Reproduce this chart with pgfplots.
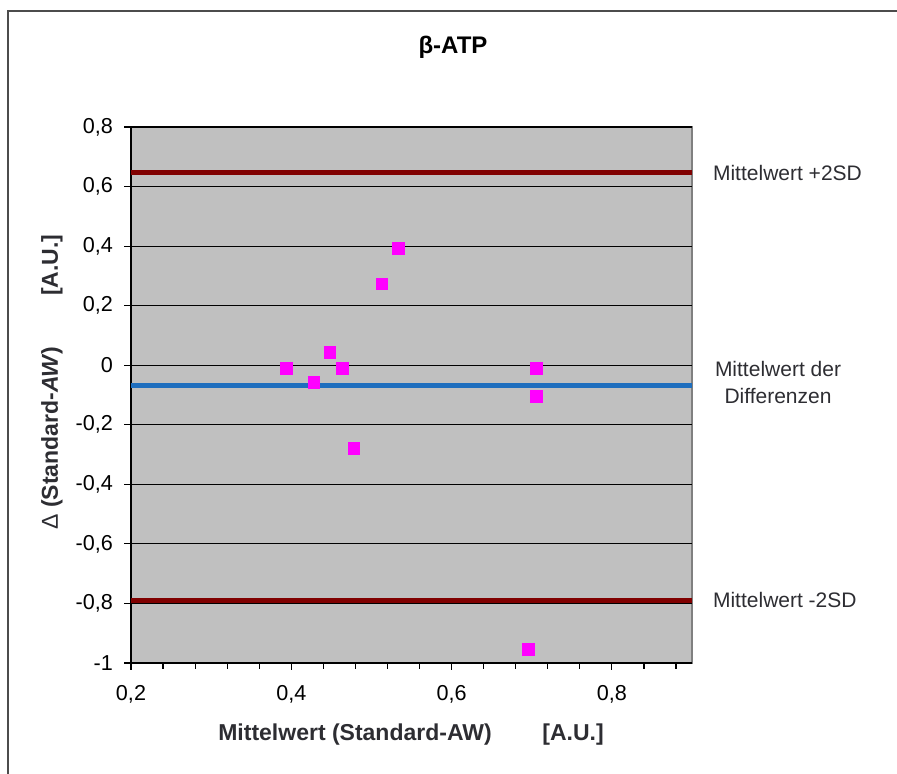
\documentclass[border=0pt]{standalone}
\usepackage{fontspec}
\setmainfont{Liberation Sans}
\usepackage{pgfplots}
\pgfplotsset{compat=1.18}
\definecolor{silverbg}{RGB}{192,192,192}
\definecolor{sdred}{RGB}{128,0,0}
\definecolor{meanblue}{RGB}{30,110,190}
\definecolor{ptmag}{RGB}{255,0,255}
\definecolor{txtgray}{RGB}{45,45,50}
\begin{document}
\begin{tikzpicture}
\useasboundingbox (0,0) rectangle (448.5pt,387pt);
\draw[line width=1.1pt, color=black!70] (4pt,-20pt) -- (4pt,381.5pt) -- (470pt,381.5pt);
\begin{axis}[
  at={(65.5pt,55.5pt)}, anchor=south west,
  scale only axis, width=280.5pt, height=268pt,
  xmin=0.2, xmax=0.9, ymin=-1, ymax=0.8,
  axis background/.style={fill=silverbg, draw=black!50, line width=0.6pt},
  axis x line*=bottom, axis y line*=left,
  axis line style={black, line width=0.7pt, -},
  xtick={0.2,0.4,0.6,0.8},
  extra x ticks={0.24,0.28,0.32,0.36,0.44,0.48,0.52,0.56,0.64,0.68,0.72,0.76,0.84,0.88},
  extra x tick labels={},
  extra x tick style={major tick length=3pt, xmajorgrids=false},
  ytick={-1,-0.8,-0.6,-0.4,-0.2,0,0.2,0.4,0.6,0.8},
  xtick align=outside, ytick align=outside,
  major tick length=3.5pt,
  tick style={black, line width=0.6pt},
  ymajorgrids, major grid style={black, line width=0.6pt},
  /pgf/number format/assume math mode=true,
  /pgf/number format/use comma,
  /pgf/number format/fixed,
  /pgf/number format/precision=2,
  ticklabel style={font=\fontsize{10.8}{12}\selectfont, text=black},
  xticklabel style={yshift=-4pt},
  yticklabel style={xshift=-2pt},
]
\addplot[sdred, line width=2.4pt, forget plot] coordinates {(0.2,0.647) (0.9,0.647)};
\addplot[sdred, line width=2.4pt, forget plot] coordinates {(0.2,-0.789) (0.9,-0.789)};
\addplot[meanblue, line width=2.4pt, forget plot] coordinates {(0.2,-0.068) (0.9,-0.068)};
\addplot[only marks, mark=square*, mark size=2.9pt, mark options={fill=ptmag, draw=ptmag}] coordinates {
(0.394,-0.011)
(0.428,-0.058)
(0.448,0.044)
(0.464,-0.011)
(0.478,-0.280)
(0.513,0.273)
(0.534,0.393)
(0.706,-0.011)
(0.706,-0.104)
(0.696,-0.954)
};
\end{axis}
\node[font=\fontsize{12}{14}\selectfont\bfseries] at (226.5pt,363.5pt) {β-ATP};
\node[font=\fontsize{11.5}{13}\selectfont\bfseries, text=txtgray] at (205.5pt,19.5pt) {Mittelwert (Standard-AW)\hspace{2.2em}[A.U.]};
\node[rotate=90, font=\fontsize{11.5}{13}\selectfont\bfseries, text=txtgray] at (26pt,196pt) {{\normalfont Δ} (Standard-\textit{AW})\hspace{2.2em}[A.U.]};
\node[anchor=west, font=\fontsize{10.5}{12}\selectfont, text=txtgray] at (353pt,300.5pt) {Mittelwert +2SD};
\node[align=center, font=\fontsize{10.5}{13.5}\selectfont, text=txtgray] at (389pt,195.5pt) {Mittelwert der\\Differenzen};
\node[anchor=west, font=\fontsize{10.5}{12}\selectfont, text=txtgray] at (353pt,87pt) {Mittelwert -2SD};
\end{tikzpicture}
\end{document}
